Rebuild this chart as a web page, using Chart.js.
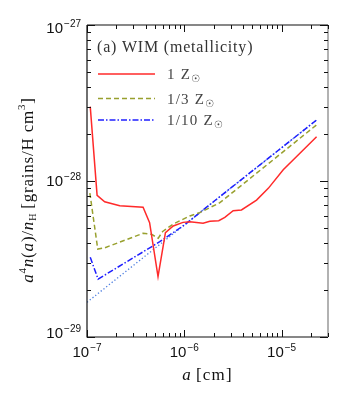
<!DOCTYPE html>
<html>
<head>
<meta charset="utf-8">
<script src="https://cdn.jsdelivr.net/npm/chart.js@4/dist/chart.umd.min.js"></script>
<style>
html,body{margin:0;padding:0;background:#fff;}
canvas{display:block;}
</style>
</head>
<body>
<canvas id="c" width="354" height="393"></canvas>
<script>
// ---- data ----
const titleText = "(a) WIM (metallicity)";
const seriesLabels = ["1", "1/3", "1/10"];

const redX = [1.08e-7, 1.27e-7, 1.52e-7, 2.17e-7, 3.77e-7, 4.4e-7, 5.37e-7, 6.4e-7, 7.7e-7, 9.7e-7, 1.14e-6, 1.56e-6, 1.83e-6, 2.26e-6, 2.61e-6, 3.18e-6, 3.87e-6, 5.53e-6, 7.3e-6, 1.04e-5, 2.29e-5];
const redY = [3.0e-28, 8.1e-29, 7.36e-29, 6.95e-29, 6.78e-29, 5.4e-29, 2.44e-29, 4.67e-29, 5.15e-29, 5.43e-29, 5.48e-29, 5.36e-29, 5.52e-29, 5.57e-29, 5.85e-29, 6.45e-29, 6.52e-29, 7.55e-29, 8.97e-29, 1.18e-28, 1.92e-28];

const greenX = [1.07e-7, 1.29e-7, 1.52e-7, 3.77e-7, 4.6e-7, 5.4e-7, 6.0e-7, 7.7e-7, 1.14e-6, 1.44e-6, 2.32e-6, 4.03e-6, 2.29e-5];
const greenY = [8.37e-29, 3.66e-29, 3.73e-29, 4.62e-29, 4.55e-29, 4.3e-29, 4.75e-29, 5.3e-29, 5.97e-29, 6.27e-29, 7.26e-29, 9.57e-29, 2.29e-28];

const blueX = [1.08e-7, 1.30e-7, 5.6e-7, 1.0e-6, 2.32e-6, 2.29e-5];
const blueY = [3.24e-29, 2.35e-29, 4.08e-29, 5.22e-29, 7.94e-29, 2.46e-28];

const dotX = [1.0e-7, 2.29e-5];
const dotY = [1.67e-29, 2.46e-28];

const xMin = 1e-7, xMax = 3e-5;
const yMin = 1e-29, yMax = 1e-27;
const xTickExps = [-7, -6, -5];
const yTickExps = [-29, -28, -27];

function pts(xs, ys){ return xs.map((x,i)=>({x:x, y:ys[i]})); }

const SERIF = '"Liberation Serif", "DejaVu Serif", serif';
const SANS = '"Liberation Sans", "DejaVu Sans", sans-serif';

const decorPlugin = {
  id: 'decor',
  afterDraw(chart){
    const ctx = chart.ctx;
    const xs = chart.scales.x, ys = chart.scales.y;
    const {left, right, top, bottom} = chart.chartArea;
    ctx.save();
    // frame
    ctx.lineWidth = 1.2;
    ctx.strokeStyle = '#111';
    ctx.beginPath();
    ctx.moveTo(left, top); ctx.lineTo(left, bottom); ctx.lineTo(right, bottom);
    ctx.moveTo(left, top); ctx.lineTo(right, top);
    ctx.stroke();
    ctx.strokeStyle = '#999';
    ctx.lineWidth = 1.5;
    ctx.beginPath(); ctx.moveTo(right, top); ctx.lineTo(right, bottom); ctx.stroke();

    // ticks
    ctx.strokeStyle = '#111';
    ctx.lineWidth = 1;
    ctx.beginPath();
    for (let d = -8; d <= -4; d++) {
      for (let m = 1; m <= 9; m++) {
        const v = m * Math.pow(10, d);
        if (v < xMin*0.999 || v > xMax*1.001) continue;
        const px = Math.round(xs.getPixelForValue(v)) + 0.5;
        const len = m === 1 ? 7 : 4;
        ctx.moveTo(px, bottom); ctx.lineTo(px, bottom - len);
        ctx.moveTo(px, top); ctx.lineTo(px, top + len);
      }
    }
    for (let d = -30; d <= -27; d++) {
      for (let m = 1; m <= 9; m++) {
        const v = m * Math.pow(10, d);
        if (v < yMin*0.999 || v > yMax*1.001) continue;
        const py = Math.round(ys.getPixelForValue(v)) + 0.5;
        const len = m === 1 ? 8 : 4;
        ctx.moveTo(left, py); ctx.lineTo(left + len, py);
        ctx.moveTo(right, py); ctx.lineTo(right - len, py);
      }
    }
    ctx.stroke();

    // tick labels
    ctx.fillStyle = '#111';
    ctx.textBaseline = 'alphabetic';
    ctx.textAlign = 'left';
    xTickExps.forEach(e => {
      const px = xs.getPixelForValue(Math.pow(10, e));
      ctx.font = '15px ' + SANS;
      const w1 = ctx.measureText('10').width;
      ctx.font = '10px ' + SANS;
      const sup = '\u2212' + Math.abs(e);
      const w2 = ctx.measureText(sup).width;
      const x0 = px - (w1 + w2 + 1) / 2;
      ctx.font = '15px ' + SANS;
      ctx.fillText('10', x0, 357);
      ctx.font = '10px ' + SANS;
      ctx.fillText(sup, x0 + w1 + 1, 351);
    });
    yTickExps.forEach(e => {
      const py = ys.getPixelForValue(Math.pow(10, e));
      let off = 5;
      if (e === -27) off = 8;
      if (e === -29) off = 1;
      ctx.font = '10px ' + SANS;
      const sup = '\u2212' + Math.abs(e);
      const w2 = ctx.measureText(sup).width;
      ctx.font = '15px ' + SANS;
      const w1 = ctx.measureText('10').width;
      const xEnd = 81;
      ctx.fillText('10', xEnd - w2 - 1 - w1, py + off);
      ctx.font = '10px ' + SANS;
      ctx.fillText(sup, xEnd - w2, py + off - 6);
    });

    // rich text helper
    function drawPieces(pieces, x, y, align, ls) {
      ctx.letterSpacing = (ls || 0) + 'px';
      let total = 0;
      pieces.forEach(p => { ctx.font = p.f; p.w = ctx.measureText(p.t).width; total += p.w + (p.sp || 0); });
      let cx = align === 'center' ? x - total / 2 : x;
      pieces.forEach(p => { ctx.font = p.f; ctx.fillText(p.t, cx, y + (p.dy || 0)); cx += p.w + (p.sp || 0); });
      ctx.letterSpacing = '0px';
    }

    // x axis title
    ctx.fillStyle = '#111';
    drawPieces([
      {t:'a', f:'italic 17px ' + SERIF, sp:4},
      {t:'[cm]', f:'17px ' + SERIF}
    ], (left + right) / 2, 380, 'center', 1.2);

    // y axis title
    ctx.save();
    ctx.translate(33, 190);
    ctx.rotate(-Math.PI / 2);
    drawPieces([
      {t:'a', f:'italic 17px ' + SERIF},
      {t:'4', f:'11px ' + SERIF, dy:-7},
      {t:'n', f:'italic 17px ' + SERIF},
      {t:'(', f:'17px ' + SERIF},
      {t:'a', f:'italic 17px ' + SERIF},
      {t:')/', f:'17px ' + SERIF},
      {t:'n', f:'italic 17px ' + SERIF},
      {t:'H', f:'10px ' + SERIF, dy:3, sp:4},
      {t:'[grains/H cm', f:'17px ' + SERIF},
      {t:'3', f:'11px ' + SERIF, dy:-8},
      {t:']', f:'17px ' + SERIF}
    ], 0, 0, 'center', 0.8);
    ctx.restore();

    // legend title
    ctx.fillStyle = '#333';
    drawPieces([{t:titleText, f:'16px ' + SERIF}], 97, 52, 'left', 0.8);

    // legend entries
    const rows = [74, 98.5, 120];
    chart.data.datasets.slice(0, 3).forEach((ds, i) => {
      const y = rows[i];
      ctx.save();
      ctx.strokeStyle = ds.borderColor;
      ctx.lineWidth = ds.borderWidth;
      ctx.setLineDash(ds.borderDash || []);
      ctx.beginPath(); ctx.moveTo(98, y); ctx.lineTo(155, y); ctx.stroke();
      ctx.restore();
      ctx.fillStyle = '#444';
      drawPieces([
        {t: seriesLabels[i] + ' Z', f:'15px ' + SERIF},
        {t: '\u2609', f:'10px "DejaVu Sans", sans-serif', dy:3}
      ], 167, y + 5, 'left', 1.2);
    });
    ctx.restore();
  }
};

new Chart(document.getElementById('c'), {
  type: 'line',
  data: {
    datasets: [
      {label: seriesLabels[0], data: pts(redX, redY), borderColor: '#ff2a2a', borderWidth: 1.5, pointRadius: 0, tension: 0, fill: false},
      {label: seriesLabels[1], data: pts(greenX, greenY), borderColor: '#98a02e', borderWidth: 1.5, borderDash: [5, 3], pointRadius: 0, tension: 0, fill: false},
      {label: seriesLabels[2], data: pts(blueX, blueY), borderColor: '#1f1fff', borderWidth: 1.5, borderDash: [6, 2, 1.5, 2], pointRadius: 0, tension: 0, fill: false},
      {label: 'power law', data: pts(dotX, dotY), borderColor: '#4f7fe0', borderWidth: 1.3, borderDash: [1.3, 2.2], pointRadius: 0, tension: 0, fill: false}
    ]
  },
  options: {
    responsive: false,
    animation: false,
    layout: {padding: {left: 87, right: 26, top: 25, bottom: 56}},
    plugins: {legend: {display: false}, tooltip: {enabled: false}},
    scales: {
      x: {type: 'logarithmic', min: xMin, max: xMax, display: false},
      y: {type: 'logarithmic', min: yMin, max: yMax, display: false}
    }
  },
  plugins: [decorPlugin]
});
</script>
</body>
</html>
